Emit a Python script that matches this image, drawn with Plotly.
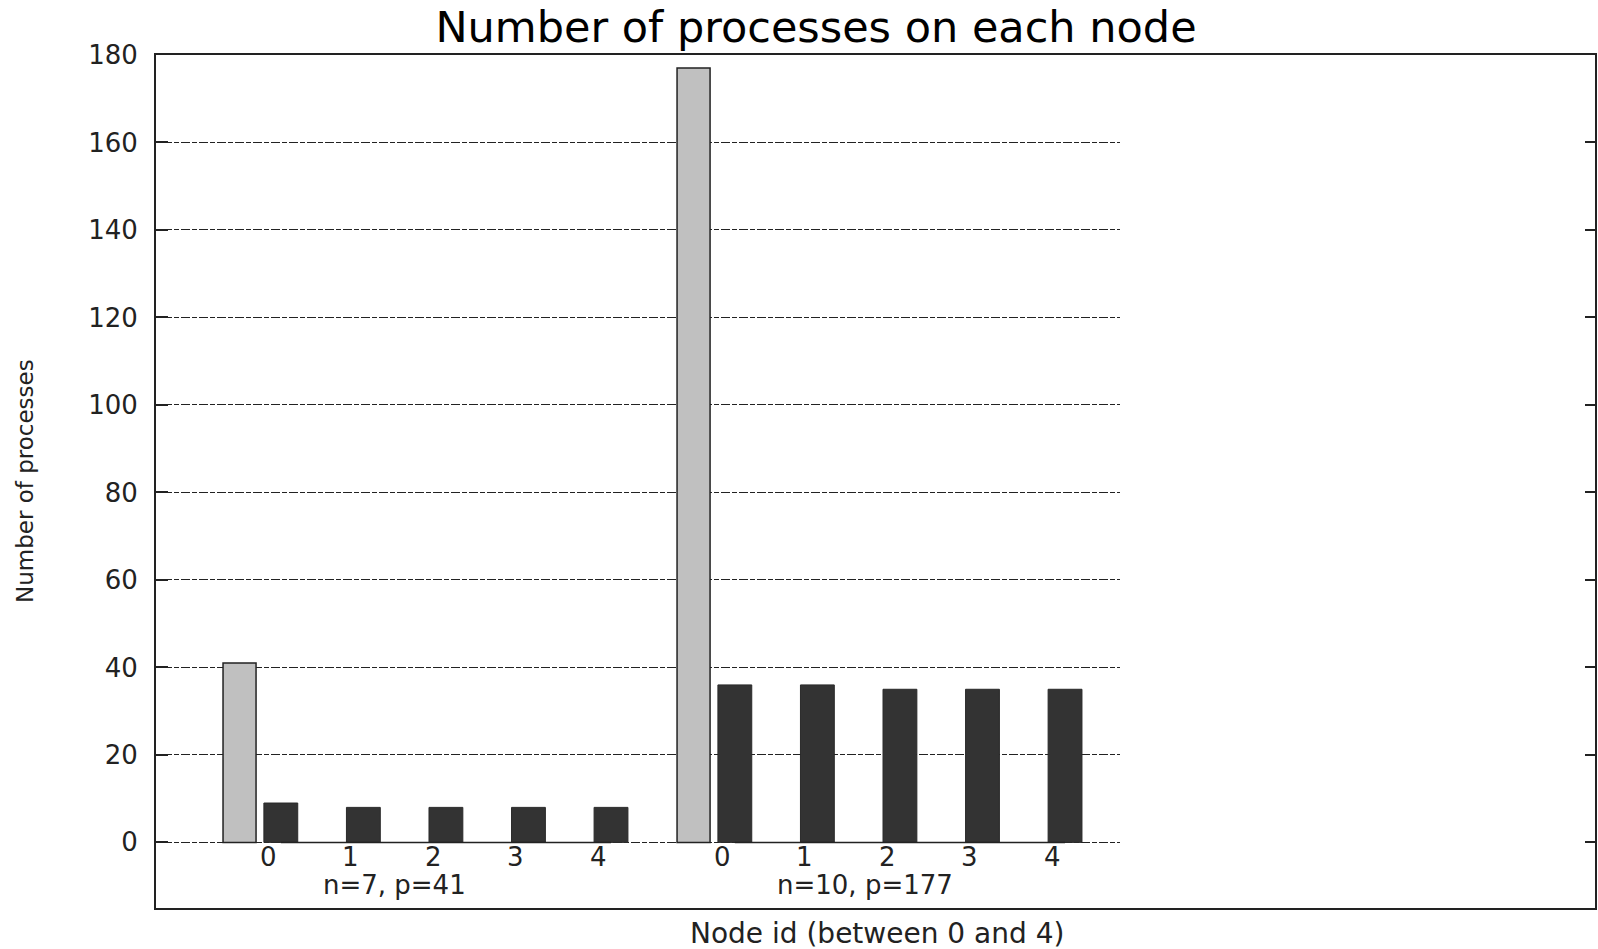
import plotly.graph_objects as go

# ---- data ----
group_labels = ["n=7, p=41", "n=10, p=177"]
group_totals = [41, 177]
node_ids = [0, 1, 2, 3, 4]
procs_per_node = [
    [9, 8, 8, 8, 8],
    [36, 36, 35, 35, 35],
]
y_ticks = [0, 20, 40, 60, 80, 100, 120, 140, 160, 180]

# ---- layout helpers ----
W, H = 1598, 949
L, R, T, B = 156, 3, 55, 41
plot_w = W - L - R
plot_h = H - T - B
FONT = "DejaVu Sans"

group_step = len(node_ids) + 0.5          # slots between group starts
group_start = [-0.5 + group_step * g for g in range(len(group_totals))]

total_x = list(group_start)
node_x, node_y = [], []
for g, vals in enumerate(procs_per_node):
    for i, v in enumerate(vals):
        node_x.append(group_start[g] + 0.5 + i)
        node_y.append(v)

fig = go.Figure()

# solid zero-line segments inside each group (under the bars)
for g in range(len(group_totals)):
    xs = [group_start[g] + 0.5, group_start[g] + 0.5 + node_ids[-1]]
    fig.add_trace(go.Scatter(x=xs, y=[0, 0], mode="lines",
                             line=dict(color="#222222", width=1.5),
                             showlegend=False, hoverinfo="skip"))

fig.add_trace(go.Bar(x=total_x, y=group_totals, width=0.40,
                     marker=dict(color="#c0c0c0", line=dict(color="#222222", width=1.5)),
                     showlegend=False, name="total"))
fig.add_trace(go.Bar(x=node_x, y=node_y, width=0.41,
                     marker=dict(color="#333333", line=dict(color="#2a2a2a", width=1)),
                     showlegend=False, name="per node"))

annotations = []
# node id labels just under the zero line
for g in range(len(group_totals)):
    for i, nid in enumerate(node_ids):
        annotations.append(dict(
            x=group_start[g] + 0.5 + i - 0.155, y=0, xref="x", yref="y",
            text=str(nid), showarrow=False, xanchor="center", yanchor="top",
            yshift=2, font=dict(family=FONT, size=26, color="#222222")))
    annotations.append(dict(
        x=group_start[g] + 0.5 + 0.49, y=-9.7, xref="x", yref="y",
        text=group_labels[g], showarrow=False, xanchor="left", yanchor="middle",
        font=dict(family=FONT, size=26, color="#222222")))

# axis titles
annotations.append(dict(
    x=(24.5 - L) / plot_w, y=0.5, xref="paper", yref="paper",
    text="Number of processes", textangle=-90, showarrow=False,
    xanchor="center", yanchor="middle",
    font=dict(family=FONT, size=23, color="#222222")))
annotations.append(dict(
    x=(877 - L) / plot_w, y=-(933 - (T + plot_h)) / plot_h, xref="paper", yref="paper",
    text="Node id (between 0 and 4)", showarrow=False,
    xanchor="center", yanchor="middle",
    font=dict(family=FONT, size=28, color="#222222")))

# white panel that hides the right part of the chart (as in the reference)
shapes = [dict(
    type="rect", xref="paper", yref="paper", layer="above",
    x0=(1120 - L) / plot_w, x1=(1585 - L) / plot_w,
    y0=(T + plot_h - 896) / plot_h, y1=(T + plot_h - 57) / plot_h,
    fillcolor="white", line=dict(width=0))]

fig.update_layout(
    width=W, height=H,
    margin=dict(l=L, r=R, t=T, b=B, autoexpand=False),
    paper_bgcolor="white", plot_bgcolor="white",
    barmode="overlay",
    title=dict(text="Number of processes on each node",
               x=816 / W, xanchor="center", y=1 - 27 / H, yanchor="middle",
               font=dict(family=FONT, size=43, color="black")),
    annotations=annotations, shapes=shapes,
    showlegend=False,
)
fig.update_xaxes(range=[-1.512, 15.92], showticklabels=False, ticks="",
                 showgrid=False, zeroline=False,
                 showline=True, mirror=True, linecolor="#222222", linewidth=2)
fig.update_yaxes(range=[-15, 180], tickvals=y_ticks, ticks="inside", ticklen=12,
                 tickcolor="#222222", tickwidth=1.5,
                 showgrid=True, gridcolor="#222222", gridwidth=1,
                 griddash="5px,2px,9px,2px", zeroline=False,
                 showline=True, mirror="ticks", linecolor="#222222", linewidth=2,
                 ticklabelstandoff=11,
                 tickfont=dict(family=FONT, size=26, color="#222222"))

fig.write_html(
    "out.html",
    config={"displayModeBar": False},
    post_script="document.body.style.margin='0';document.body.style.overflow='hidden';",
)
